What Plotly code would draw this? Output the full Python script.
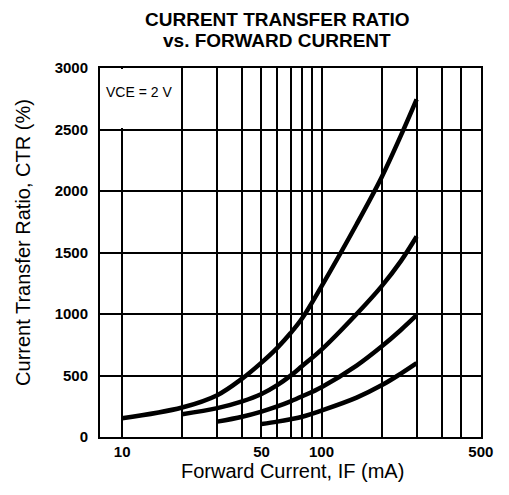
import plotly.graph_objects as go

# ---- data ----
if_1 = [10, 20, 30, 40, 50, 60, 70, 80, 100, 150, 200, 250, 300]
ctr_1 = [152, 240, 340, 475, 605, 725, 845, 965, 1225, 1730, 2110, 2450, 2745]

if_2 = [20, 30, 40, 50, 60, 70, 80, 100, 150, 200, 250, 300]
ctr_2 = [185, 235, 290, 350, 422, 499, 577, 710, 1000, 1225, 1430, 1630]

if_3 = [30, 40, 50, 60, 70, 80, 100, 150, 200, 250, 300]
ctr_3 = [125, 165, 207, 249, 290, 331, 405, 580, 735, 870, 990]

if_4 = [50, 60, 70, 80, 100, 150, 200, 250, 300]
ctr_4 = [105, 125, 145, 165, 215, 320, 420, 515, 600]

x_tick_vals = [10, 50, 100, 630]
x_tick_text = ["10", "50", "100", "500"]
x_minor_grid = [20, 30, 40, 60, 70, 80, 90, 200, 300, 400, 500]
y_tick_vals = [0, 500, 1000, 1500, 2000, 2500, 3000]

title_lines = ["CURRENT TRANSFER RATIO", "vs. FORWARD CURRENT"]

FONT = "Liberation Sans, Arial, sans-serif"

fig = go.Figure()
for xs, ys in [(if_1, ctr_1), (if_2, ctr_2), (if_3, ctr_3), (if_4, ctr_4)]:
    fig.add_trace(go.Scatter(x=xs, y=ys, mode="lines",
                             line=dict(color="black", width=4.5, shape="spline", smoothing=1.0),
                             showlegend=False, hoverinfo="skip"))

# page has an 8px body margin, so the figure is 8px smaller than the window
fig.update_layout(
    width=501, height=487,
    margin=dict(l=92, r=28, t=60, b=58),
    paper_bgcolor="white", plot_bgcolor="white",
    font=dict(family=FONT, color="black"),
    showlegend=False,
)

fig.update_xaxes(
    type="log", range=[0.889, 2.8],
    tickvals=x_tick_vals, ticktext=x_tick_text,
    tickfont=dict(size=15, family=FONT, color="black", weight="bold"),
    showgrid=True, gridcolor="black", gridwidth=2,
    minor=dict(tickvals=x_minor_grid, showgrid=True, gridcolor="black", gridwidth=2, ticks=""),
    showline=True, linecolor="black", linewidth=2, mirror=True,
    ticks="", ticklabelstandoff=0, zeroline=False,
)
fig.update_yaxes(
    range=[0, 3000], tickvals=y_tick_vals,
    tickfont=dict(size=15, family=FONT, color="black", weight="bold"),
    showgrid=True, gridcolor="black", gridwidth=2,
    showline=True, linecolor="black", linewidth=2, mirror=True,
    ticks="", ticklabelstandoff=7, zeroline=False,
)

# white label box for the test condition
fig.add_shape(type="rect", xref="x", yref="y", x0=7.76, x1=19.3, y0=2512, y1=2992,
              fillcolor="white", line=dict(width=0), layer="between")
fig.add_annotation(text="VCE = 2 V", xref="paper", yref="paper", x=0, y=1,
                   xanchor="left", yanchor="middle", xshift=4, yshift=-24,
                   showarrow=False, font=dict(size=14, family=FONT, color="black"))

# title (two lines)
for line_text, shift in zip(title_lines, [48.3, 27.3]):
    fig.add_annotation(text="<b>" + line_text + "</b>",
                       xref="paper", yref="paper", x=0.4646, y=1,
                       xanchor="center", yanchor="middle", yshift=shift, borderpad=0,
                       showarrow=False, font=dict(size=19, family=FONT, color="black"))

# axis titles
fig.add_annotation(text="Forward Current, IF (mA)", xref="paper", yref="paper",
                   x=0.505, y=0, xanchor="center", yanchor="middle", yshift=-34,
                   showarrow=False, font=dict(size=20, family=FONT, color="black"))
fig.add_annotation(text="Current Transfer Ratio, CTR (%)", xref="paper", yref="paper",
                   x=0, y=0.526, xanchor="center", yanchor="middle", xshift=-77,
                   textangle=-90, showarrow=False,
                   font=dict(size=20, family=FONT, color="black"))

fig.write_html("out.html")
